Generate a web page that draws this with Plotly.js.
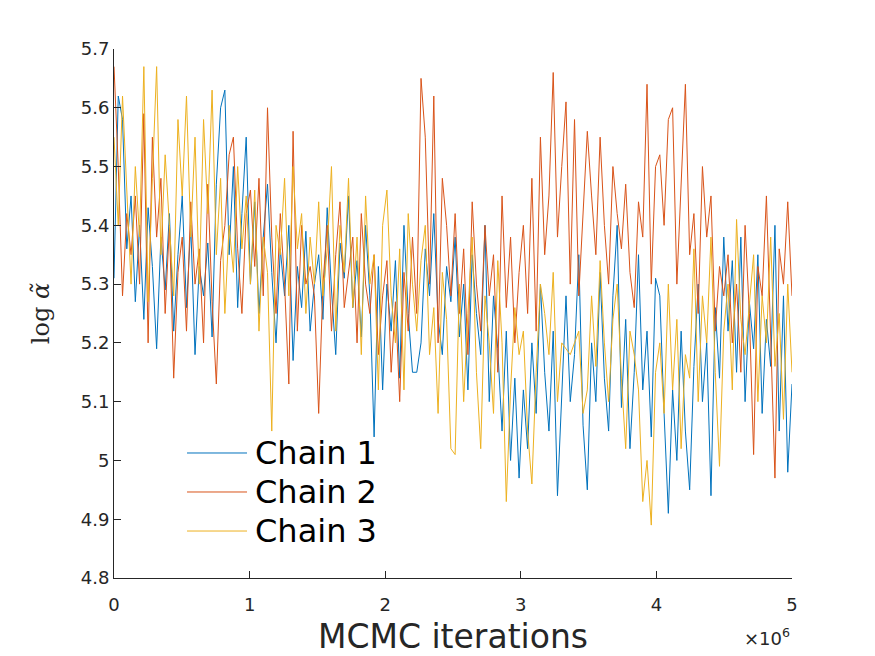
<!DOCTYPE html>
<html>
<head>
<meta charset="utf-8">
<script src="https://cdn.plot.ly/plotly-3.0.1.min.js"></script>
<style>html,body{margin:0;padding:0;background:#fff;}#chart{width:875px;height:656px;}</style>
</head>
<body>
<div id="chart"></div>
<script>
// MCMC trace values (thinned samples)
const chainNames = ["Chain 1", "Chain 2", "Chain 3"];
const totalIterations = 5e6;

const chain1 = [
  5.31,5.62,5.58,5.36,5.45,5.27,5.40,5.24,5.43,5.33,5.19,5.38,5.29,5.42,5.22,5.35,
  5.45,5.26,5.40,5.18,5.33,5.28,5.37,5.21,5.47,5.60,5.63,5.35,5.50,5.26,5.42,5.55,
  5.30,5.44,5.25,5.38,5.47,5.32,5.20,5.36,5.28,5.40,5.17,5.33,5.26,5.39,5.22,5.30,
  5.35,5.24,5.43,5.29,5.18,5.37,5.31,5.45,5.26,5.34,5.21,5.40,5.28,5.04,5.33,5.12,
  5.30,5.22,5.34,5.14,5.40,5.25,5.15,5.15,5.20,5.36,5.28,5.42,5.24,5.18,5.33,5.27,
  5.38,5.21,5.30,5.12,5.35,5.25,5.18,5.40,5.10,5.28,5.19,5.05,5.22,5.00,5.14,4.97,
  5.12,5.02,5.20,5.08,5.30,5.15,5.05,5.22,4.94,5.12,5.28,5.10,5.18,5.35,5.06,4.95,
  5.20,5.10,5.32,5.14,5.05,5.28,5.40,5.09,5.24,5.02,5.15,5.35,5.12,5.22,5.04,5.31,
  5.28,5.08,4.91,5.12,5.00,5.22,5.05,4.95,5.16,5.30,5.10,5.20,4.94,5.26,5.14,5.38,
  5.22,5.34,5.15,5.38,5.10,5.27,5.19,5.35,5.08,5.24,5.16,5.40,5.05,5.28,4.98,5.13
];

const chain2 = [
  5.67,5.50,5.28,5.42,5.35,5.45,5.30,5.59,5.20,5.55,5.38,5.48,5.25,5.40,5.14,5.32,
  5.38,5.22,5.44,5.30,5.36,5.20,5.47,5.27,5.13,5.34,5.40,5.52,5.55,5.36,5.25,5.42,
  5.46,5.33,5.48,5.28,5.60,5.38,5.25,5.42,5.30,5.13,5.56,5.22,5.40,5.30,5.33,5.28,
  5.08,5.30,5.40,5.22,5.35,5.44,5.26,5.32,5.38,5.20,5.42,5.30,5.25,5.35,5.18,5.28,
  5.34,5.15,5.27,5.10,5.32,5.22,5.38,5.25,5.65,5.55,5.30,5.62,5.20,5.48,5.40,5.28,
  5.42,5.25,5.36,5.18,5.44,5.30,5.22,5.40,5.28,5.35,5.15,5.45,5.26,5.38,5.20,5.32,
  5.40,5.25,5.48,5.22,5.55,5.35,5.45,5.66,5.38,5.50,5.61,5.30,5.58,5.28,5.42,5.56,
  5.45,5.35,5.55,5.40,5.30,5.50,5.42,5.36,5.47,5.32,5.26,5.44,5.38,5.64,5.30,5.50,
  5.52,5.40,5.58,5.60,5.30,5.48,5.64,5.35,5.42,5.25,5.50,5.38,5.45,5.22,5.33,5.28,
  5.35,5.20,5.30,5.15,5.40,5.25,5.01,5.33,5.28,5.45,5.20,4.97,5.36,5.30,5.44,5.28
];

const chain3 = [
  5.55,5.40,5.62,5.45,5.30,5.50,5.38,5.67,5.27,5.48,5.67,5.35,5.52,5.40,5.28,5.58,
  5.45,5.62,5.38,5.55,5.30,5.58,5.42,5.63,5.35,5.48,5.25,5.40,5.32,5.50,5.36,5.45,
  5.30,5.46,5.22,5.38,5.32,5.05,5.40,5.35,5.48,5.28,5.50,5.36,5.42,5.25,5.38,5.30,
  5.44,5.28,5.36,5.50,5.22,5.40,5.32,5.48,5.26,5.38,5.18,5.45,5.30,5.35,5.12,5.40,
  5.46,5.28,5.20,5.36,5.12,5.42,5.30,5.22,5.34,5.40,5.18,5.26,5.08,5.32,5.24,5.02,
  5.01,5.30,5.10,5.25,5.38,5.15,5.02,5.28,5.20,5.08,5.34,5.20,4.93,5.12,5.26,5.18,
  5.22,5.05,4.96,5.15,5.30,5.25,5.18,5.32,5.10,5.20,5.19,5.18,5.20,5.22,5.08,5.12,
  5.28,5.16,5.34,5.20,5.10,5.24,5.30,5.14,5.02,5.22,5.18,5.12,4.93,5.00,4.89,5.15,
  5.20,5.08,5.30,5.12,5.24,5.02,5.18,5.14,5.36,5.10,5.28,5.20,5.38,5.15,4.99,5.22,
  5.30,5.12,5.41,5.24,5.18,5.27,5.35,5.10,5.28,5.20,5.38,5.16,5.25,5.07,5.30,5.15
];

const xTicks = [0, 1e6, 2e6, 3e6, 4e6, 5e6];
const xTickLabels = ["0", "1", "2", "3", "4", "5"];
const yTicks = [4.8, 4.9, 5, 5.1, 5.2, 5.3, 5.4, 5.5, 5.6, 5.7];
const yTickLabels = ["4.8", "4.9", "5", "5.1", "5.2", "5.3", "5.4", "5.5", "5.6", "5.7"];

const chainColors = ["#0072BD", "#D95319", "#EDB120"];
const chains = [chain1, chain2, chain3];

const traces = chains.map((vals, k) => {
  const step = totalIterations / (vals.length - 1);
  return {
    type: "scatter",
    mode: "lines",
    name: chainNames[k],
    x: vals.map((_, i) => i * step),
    y: vals,
    line: { color: chainColors[k], width: 1 },
    hoverinfo: "skip",
    showlegend: false
  };
});

// Legend drawn MATLAB-style (long sample lines, no box), in paper coordinates
const legendRowsY = [0.2363, 0.1626, 0.0888];
const legendShapes = chainNames.map((_, k) => ({
  type: "line", xref: "paper", yref: "paper",
  x0: 0.1077, x1: 0.1962, y0: legendRowsY[k], y1: legendRowsY[k],
  line: { color: chainColors[k], width: 1 }
}));
const legendTexts = chainNames.map((name, k) => ({
  xref: "paper", yref: "paper",
  x: 0.205, y: legendRowsY[k], xanchor: "left", yanchor: "middle",
  text: name, showarrow: false,
  font: { family: "DejaVu Sans", size: 32, color: "#000000" }
}));

const axisCommon = {
  showline: true,
  linecolor: "#262626",
  linewidth: 1,
  ticks: "inside",
  ticklen: 7,
  tickwidth: 1,
  tickcolor: "#262626",
  showgrid: false,
  zeroline: false,
  mirror: false,
  tickfont: { family: "DejaVu Sans", size: 18, color: "#262626" }
};

const layout = {
  width: 875,
  height: 656,
  margin: { l: 114, r: 83, t: 49, b: 78 },
  paper_bgcolor: "#ffffff",
  plot_bgcolor: "#ffffff",
  showlegend: false,
  xaxis: Object.assign({}, axisCommon, {
    range: [0, 5e6],
    tickmode: "array",
    tickvals: xTicks,
    ticktext: xTickLabels,
    ticklabelstandoff: 10,
    title: { text: "MCMC iterations", font: { family: "DejaVu Sans", size: 33, color: "#262626" }, standoff: 12 }
  }),
  yaxis: Object.assign({}, axisCommon, {
    range: [4.8, 5.7],
    tickmode: "array",
    tickvals: yTicks,
    ticktext: yTickLabels,
    title: { text: "log <i>α̃</i>", font: { family: "DejaVu Serif", size: 24, color: "#262626" }, standoff: 24 }
  }),
  shapes: legendShapes,
  annotations: legendTexts.concat([{
    xref: "paper", yref: "paper",
    x: 1.0, y: -0.085, xanchor: "right", yanchor: "top",
    text: "×10<sup>6</sup>",
    showarrow: false,
    font: { family: "DejaVu Sans", size: 18, color: "#262626" }
  }])
};

Plotly.newPlot("chart", traces, layout, { staticPlot: true, displayModeBar: false });
</script>
</body>
</html>
